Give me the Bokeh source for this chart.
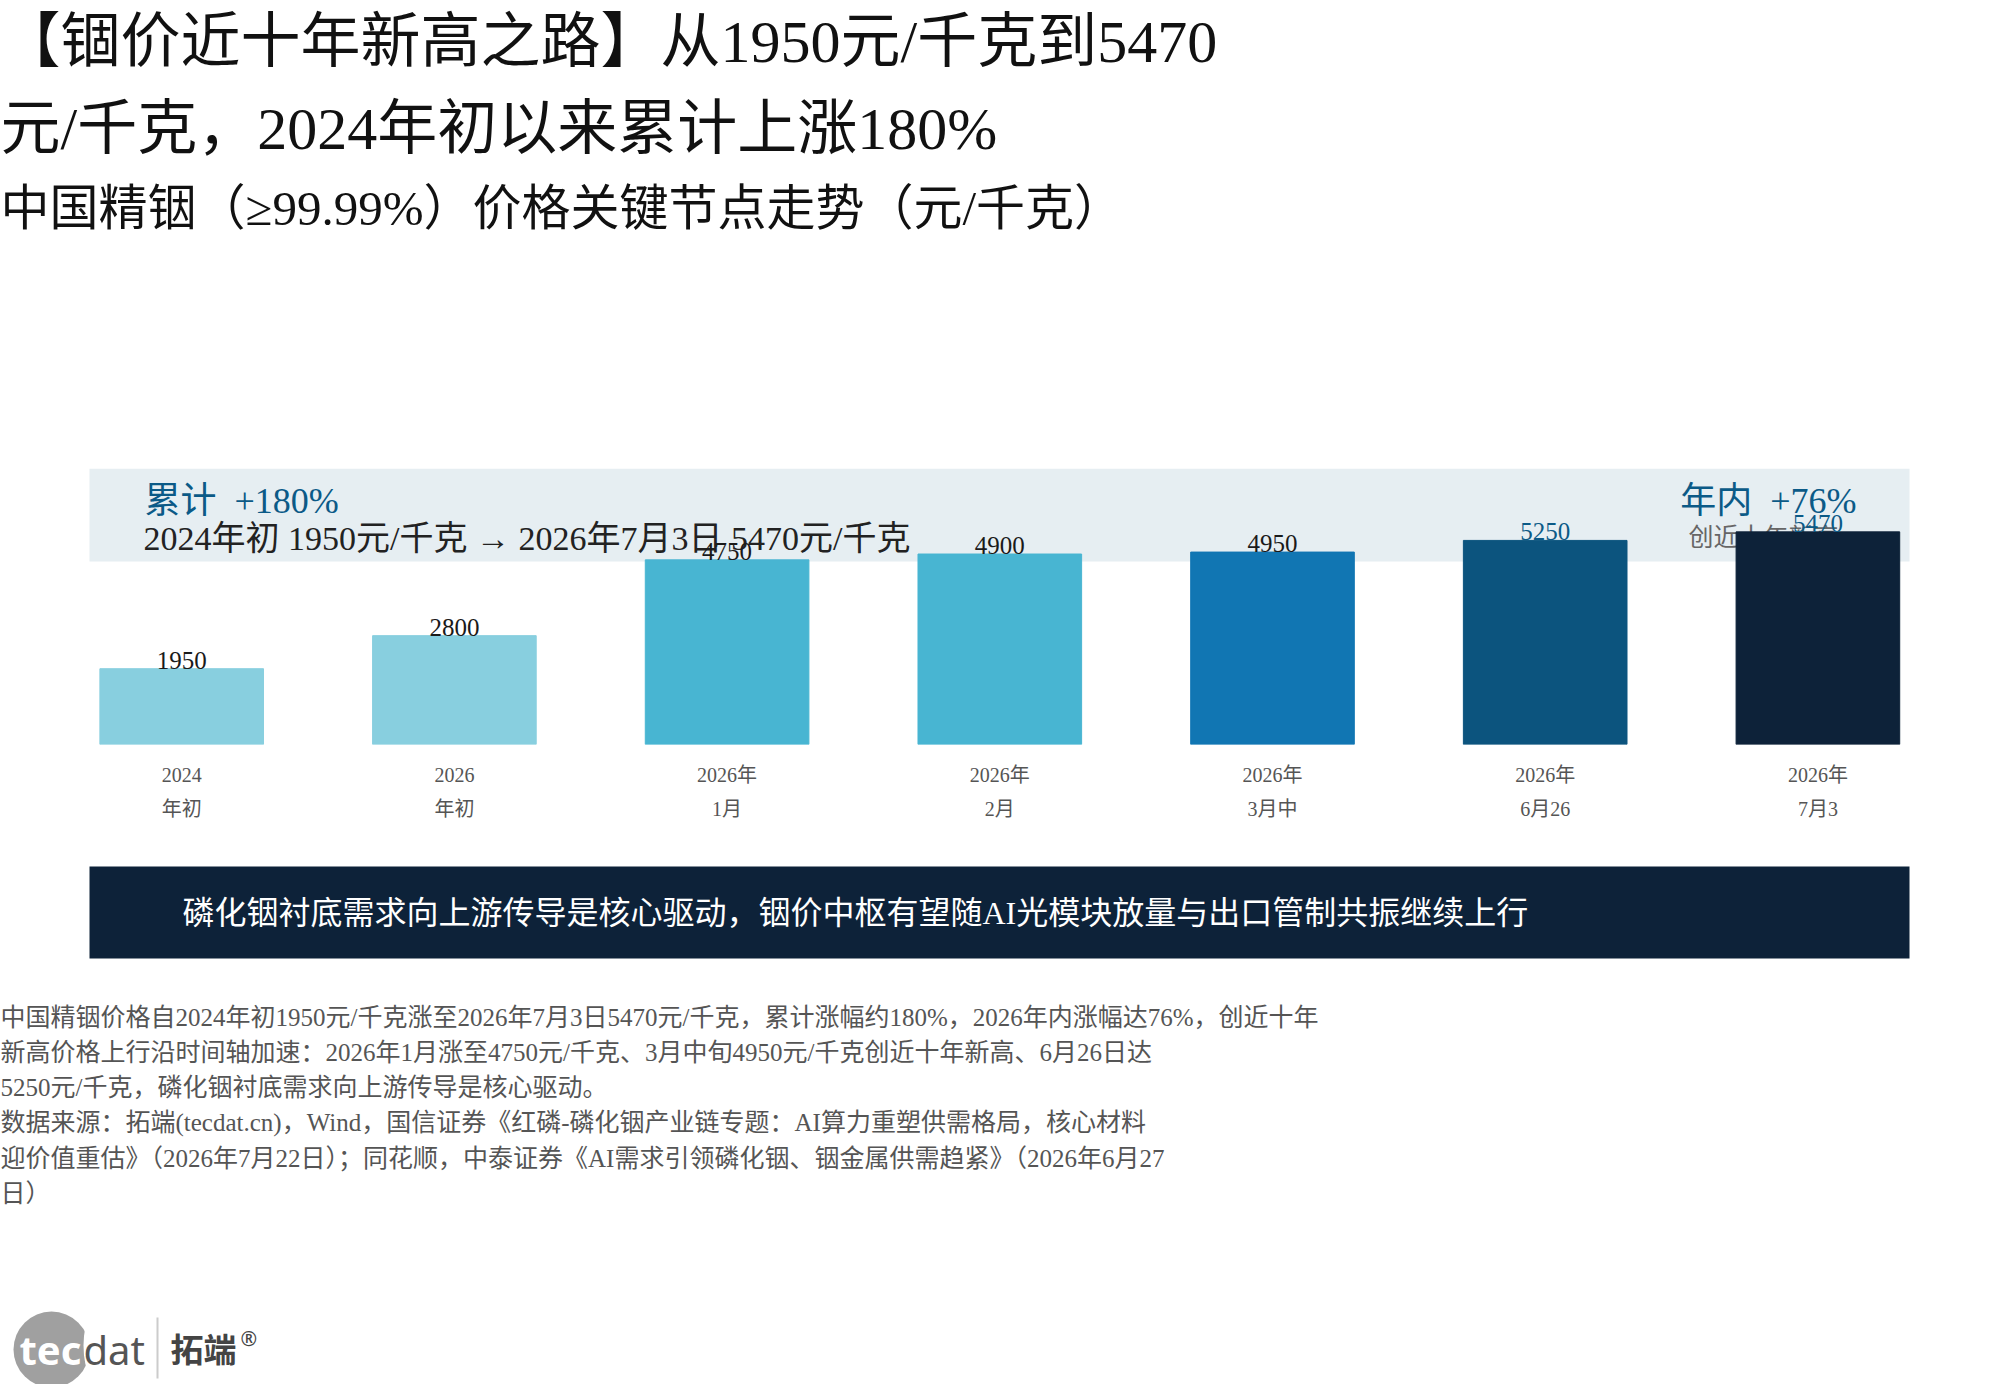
from bokeh.plotting import figure
from bokeh.layouts import column
from bokeh.models import ColumnDataSource, Range1d, FixedTicker, Label, BoxAnnotation
from bokeh.core.properties import value
from bokeh.embed import file_html
from bokeh.resources import INLINE

# ---------------- data ----------------
tick_line1 = ["2024", "2026", "2026年", "2026年", "2026年", "2026年", "2026年"]
tick_line2 = ["年初", "年初", "1月", "2月", "3月中", "6月26", "7月3"]
prices = [1950, 2800, 4750, 4900, 4950, 5250, 5470]
bar_colors = ["#88cfdf", "#88cfdf", "#48b5d2", "#48b5d2", "#1176b3", "#0c547e", "#0d2239"]
label_colors = ["#1a1a1a", "#1a1a1a", "#1a1a1a", "#1a1a1a", "#1a1a1a", "#0b5a87", "#0b5a87"]
positions = list(range(len(prices)))

title_lines = ["【锢价近十年新高之路】从1950元/千克到5470",
               "元/千克，2024年初以来累计上涨180%"]
subtitle = "中国精铟（≥99.99%）价格关键节点走势（元/千克）"
band_left_big = "累计\u2002+180%"
band_left_small = "2024年初 1950元/千克 → 2026年7月3日 5470元/千克"
band_right_big = "年内\u2002+76%"
band_right_small = "创近十年新高"
banner_text = "磷化铟衬底需求向上游传导是核心驱动，铟价中枢有望随AI光模块放量与出口管制共振继续上行"
footer_lines = [
    "中国精铟价格自2024年初1950元/千克涨至2026年7月3日5470元/千克，累计涨幅约180%，2026年内涨幅达76%，创近十年",
    "新高价格上行沿时间轴加速：2026年1月涨至4750元/千克、3月中旬4950元/千克创近十年新高、6月26日达",
    "5250元/千克，磷化铟衬底需求向上游传导是核心驱动。",
    "数据来源：拓端(tecdat.cn)，Wind，国信证券《红磷-磷化铟产业链专题：AI算力重塑供需格局，核心材料",
    "迎价值重估》（2026年7月22日）；同花顺，中泰证券《AI需求引领磷化铟、铟金属供需趋紧》（2026年6月27",
    "日）",
]

SERIF = "Liberation Serif, Noto Sans CJK SC"
SANS = "Noto Sans, Noto Sans CJK SC"

W = 1984
TOP_H = 468          # title area
FRAME_TOP, FRAME_BOTTOM = 468, 744
CHART_BOTTOM_BORDER = 96
CHART_END = FRAME_BOTTOM + CHART_BOTTOM_BORDER
TOTAL_H = 1384
FIRST_CENTER, STEP = 181.2, 272.7   # page px of first bar centre, spacing


def blank(height, y0):
    f = figure(width=W, height=height, x_range=Range1d(0, W),
               y_range=Range1d(y0 + height, y0),
               x_axis_location=None, y_axis_location=None,
               toolbar_location=None, output_backend="svg",
               min_border=0)
    f.outline_line_color = None
    f.xgrid.visible = False
    f.ygrid.visible = False
    return f


def lab(fig, text, x, y, size, color, font=SERIF, align="left", baseline="middle",
        level="annotation", style="normal", units="data"):
    l = Label(x=x, y=y, x_units=units, y_units=units, text=text,
              text_font=font, text_font_size=f"{size}px", text_color=color,
              text_align=align, text_baseline=baseline, level=level,
              text_font_style=style)
    fig.add_layout(l)
    return l


# ---------------- title area ----------------
top = blank(TOP_H, 0)
lab(top, title_lines[0], 0, 41, 60, "#111111")
lab(top, title_lines[1], 0, 128, 60, "#111111")
lab(top, subtitle, 0, 208, 49, "#111111")

# ---------------- chart ----------------
p = figure(width=W, frame_width=W, frame_height=FRAME_BOTTOM - FRAME_TOP,
           min_border_left=0, min_border_right=0,
           min_border_top=0, min_border_bottom=CHART_BOTTOM_BORDER,
           x_range=Range1d(-FIRST_CENTER / STEP, (W - FIRST_CENTER) / STEP),
           y_range=Range1d(0, 7100),
           y_axis_location=None, toolbar_location=None,
           output_backend="svg")
p.outline_line_color = None
p.xgrid.visible = False
p.ygrid.visible = False

ax = p.xaxis[0]
ax.ticker = FixedTicker(ticks=positions)
ax.major_label_overrides = {i: f"{a}\n{b}" for i, (a, b) in enumerate(zip(tick_line1, tick_line2))}
ax.axis_line_color = None
ax.major_tick_line_color = None
ax.minor_tick_line_color = None
ax.major_label_text_font = SERIF
ax.major_label_text_font_size = "20px"
ax.major_label_text_color = "#555555"
ax.major_label_text_line_height = 1.55
ax.major_label_standoff = 13


def sx(px):
    return px


def sy(py):
    return FRAME_BOTTOM - py


band = BoxAnnotation(left=sx(89), right=sx(1909), top=sy(468), bottom=sy(561),
                     left_units="screen", right_units="screen",
                     top_units="screen", bottom_units="screen",
                     fill_color="#e6eef2", fill_alpha=1, line_color=None, level="underlay")
p.add_layout(band)

lab(p, band_left_big, sx(144), sy(500), 36, "#0b5a87", level="underlay", units="screen")
lab(p, band_left_small, sx(143), sy(538), 34, "#222222", level="underlay", units="screen")
lab(p, band_right_big, sx(1856), sy(500), 36, "#0b5a87", align="right", level="underlay", units="screen")
lab(p, band_right_small, sx(1688), sy(537), 25, "#666666", level="underlay", units="screen")

src = ColumnDataSource(dict(x=positions, top=prices, color=bar_colors,
                            label=[str(v) for v in prices], lcolor=label_colors))
p.vbar(x="x", top="top", width=0.6, color="color", source=src)
p.text(x="x", y="top", text="label", source=src, text_align="center",
       text_baseline="bottom", y_offset=0, text_color="lcolor",
       text_font=value("Liberation Serif"), text_font_size="25px")

# ---------------- banner, footer, logo ----------------
bot = blank(TOTAL_H - CHART_END, CHART_END)
bot.add_layout(BoxAnnotation(left=89, right=1909, top=866, bottom=958,
                             fill_color="#0d2239", fill_alpha=1, line_color=None))
lab(bot, banner_text, 182, 912, 32, "#ffffff")

footer_y = [1017, 1052, 1087, 1122, 1158, 1193]
for t, yy in zip(footer_lines, footer_y):
    lab(bot, t, 0, yy, 25, "#555555")

bot.add_layout(BoxAnnotation(left=13, right=89, top=1311, bottom=1387,
                             fill_color="#a0a0a0", fill_alpha=1, line_color=None,
                             border_radius=38))
bot.add_layout(BoxAnnotation(left=83, right=267, top=1253, bottom=1437,
                             fill_color="#ffffff", fill_alpha=1, line_color=None,
                             border_radius=92))
bot.add_layout(BoxAnnotation(left=156, right=158, top=1317, bottom=1378,
                             fill_color="#cccccc", fill_alpha=1, line_color=None))
lab(bot, "tec", 19, 1349, 40, "#ffffff", font=SANS, baseline="alphabetic", style="bold")
lab(bot, "dat", 83, 1349, 40, "#555555", font=SANS, baseline="alphabetic")
lab(bot, "拓端", 170, 1347, 33, "#444444", font="Noto Sans CJK SC", style="bold")
lab(bot, "®", 240, 1338, 20, "#444444", font=SANS)

layout = column(top, p, bot, spacing=0)
open("out.html", "w").write(file_html(layout, INLINE))
